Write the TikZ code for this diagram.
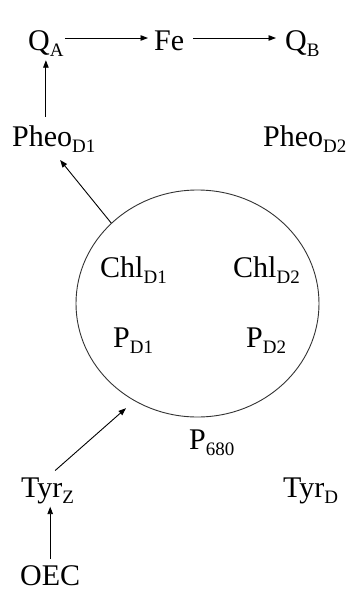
\documentclass[tikz,border=0pt]{standalone}
\usepackage{fontspec}
\setmainfont{Liberation Serif}
\usepackage{tikz}
\usetikzlibrary{positioning,arrows.meta,calc,shapes.geometric}
\newcommand{\lowsub}[1]{\raisebox{-6pt}{\fontsize{19}{19}\selectfont #1}}

\begin{document}
\begin{tikzpicture}[
  x=1pt, y=-1pt,
  font=\fontsize{30}{33}\selectfont,
  lbl/.style={inner sep=0pt, anchor=base west},
  core/.style={draw=black!80, line width=0.9pt, ellipse, inner sep=0pt,
               minimum width=243pt, minimum height=227pt},
  lk/.style={-{Triangle[length=7.5pt,width=5.5pt]}, line width=0.9pt},
]
\useasboundingbox (0,0) rectangle (352,592);
% Acceptor side
\node[lbl] (qa) at (28,50) {Q\lowsub{A}};
\node[lbl] (fe) at (154,50) {Fe};
\node[lbl] (qb) at (285,50) {Q\lowsub{B}};
\node[lbl] (pheo1) at (12,146) {Pheo\lowsub{D1}};
\node[lbl] (pheo2) at (263,146) {Pheo\lowsub{D2}};
% Reaction centre
\node[core] (pcore) at (197.5,303.5) {};
\node[lbl] (chl1) at (100,277) {Chl\lowsub{D1}};
\node[lbl] (chl2) at (233,277) {Chl\lowsub{D2}};
\node[lbl] (pd1) at (113,347) {P\lowsub{D1}};
\node[lbl] (pd2) at (246,347) {P\lowsub{D2}};
\node[lbl] (p680) at (189,449) {P\lowsub{680}};
% Donor side
\node[lbl] (tyrz) at (21,497) {Tyr\lowsub{Z}};
\node[lbl] (tyrd) at (283,497) {Tyr\lowsub{D}};
\node[lbl] (oec) at (20,585) {OEC};
% Electron path
\draw[lk, shorten <=6pt, shorten >=3pt] (oec.north) -- (oec.north |- tyrz.south);
\draw[lk, shorten <=10pt, shorten >=11pt] (tyrz.north) -- (pcore.237);
\draw[lk, shorten >=10pt] (pcore.137) -- (pheo1.south);
\draw[lk, shorten <=8pt, shorten >=4pt] (qa |- pheo1.north) -- (qa.south);
\draw[lk, shorten <=1pt, shorten >=6pt] ([yshift=12pt]qa.base east) -- ([yshift=12pt]fe.base west);
\draw[lk, shorten <=9pt, shorten >=9pt] ([yshift=12pt]fe.base east) -- ([yshift=12pt]qb.base west);
\end{tikzpicture}
\end{document}
